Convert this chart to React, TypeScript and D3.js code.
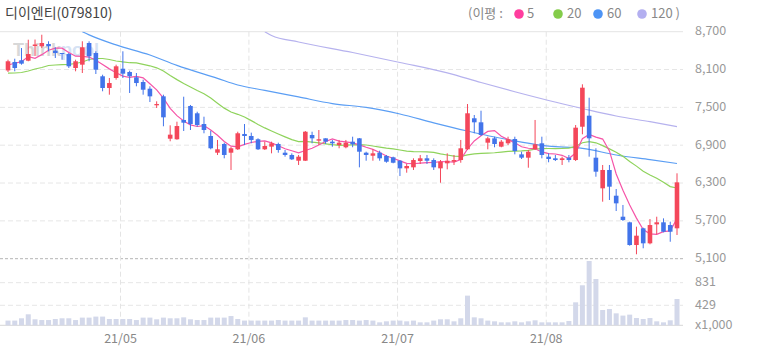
import React from 'react';
import * as d3 from 'd3';

const title = '디이엔티(079810)';

const opens = [8086, 8220, 8247, 8240, 8473, 8469, 8505, 8399, 8362, 8346, 8124, 8177, 8521, 8362, 7993, 7807, 7966, 8113, 8061, 7977,
  7902, 7796, 7533, 7675, 7003, 6994, 7300, 7522, 7406, 7236, 7046, 6781, 6919, 6781, 6835, 7078, 7046, 6994, 6835, 6877,
  6919, 6781, 6745, 6654, 6654, 7062, 6972, 7009, 6956, 6903, 6867, 6956, 7009, 6781, 6733, 6781, 6729, 6708, 6654, 6533,
  6549, 6649, 6692, 6665, 6533, 6613, 6638, 6665, 6835, 7327, 7263, 6940, 7009, 6877, 6930, 6998, 6755, 6702, 6840, 6930,
  6718, 6692, 6665, 6702, 6665, 7193, 7368, 6702, 6216, 6507, 6099, 5766, 5677, 5317, 5582, 5344, 5645, 5677, 5634, 5582];
const highs = [8256, 8272, 8441, 8573, 8576, 8652, 8548, 8453, 8362, 8362, 8256, 8548, 8548, 8389, 8018, 7966, 8177, 8389, 8082, 8045,
  7939, 7834, 7596, 7701, 7215, 7273, 7669, 7538, 7431, 7352, 7130, 6983, 6940, 6871, 7114, 7236, 7099, 7009, 6956, 6956,
  6940, 6824, 6771, 6745, 7125, 7114, 7141, 7009, 6983, 6983, 6983, 7035, 7014, 6797, 6835, 6813, 6745, 6718, 6665, 6602,
  6692, 6745, 6745, 6692, 6665, 6771, 6745, 6983, 7553, 7379, 7447, 7035, 7035, 6983, 7035, 7035, 6797, 6824, 7300, 7035,
  6771, 6745, 6718, 6745, 7220, 7866, 7653, 6851, 6586, 6586, 6205, 5952, 5687, 5608, 5592, 5729, 5766, 5740, 5687, 6454];
const lows = [8061, 8072, 8177, 8231, 8315, 8441, 8389, 8283, 8256, 8124, 8072, 8045, 8231, 8029, 7755, 7701, 7939, 7966, 7728, 7834,
  7701, 7585, 7490, 7200, 6962, 6987, 7125, 7141, 7194, 7089, 6835, 6745, 6692, 6507, 6824, 6903, 6930, 6824, 6824, 6771,
  6781, 6718, 6665, 6586, 6649, 6930, 6903, 6919, 6876, 6851, 6851, 6867, 6549, 6654, 6654, 6654, 6622, 6613, 6411, 6464,
  6507, 6602, 6602, 6507, 6305, 6517, 6586, 6622, 6824, 7089, 7046, 6835, 6867, 6867, 6903, 6755, 6681, 6543, 6824, 6692,
  6629, 6649, 6586, 6629, 6649, 7073, 6718, 6400, 6004, 6031, 5856, 5698, 5306, 5170, 5265, 5328, 5487, 5518, 5369, 5476];
const closes = [8231, 8124, 8193, 8346, 8497, 8521, 8469, 8362, 8346, 8151, 8231, 8453, 8310, 8097, 7807, 7886, 8151, 8034, 7993, 7886,
  7780, 7675, 7553, 7342, 7067, 7204, 7257, 7236, 7220, 7141, 6851, 6835, 6745, 6851, 7089, 7046, 6983, 6835, 6887, 6930,
  6824, 6745, 6676, 6718, 7114, 7009, 6994, 6956, 6930, 6940, 6940, 6914, 6797, 6745, 6771, 6692, 6638, 6622, 6533, 6570,
  6665, 6692, 6654, 6549, 6638, 6654, 6665, 6851, 7406, 7263, 7062, 7009, 6919, 6956, 6994, 6808, 6702, 6797, 6914, 6745,
  6681, 6665, 6692, 6665, 7178, 7812, 7009, 6480, 6507, 6242, 5978, 5714, 5317, 5465, 5344, 5634, 5677, 5528, 5528, 6311];
// volume in thousands of shares
const volumes = [157, 157, 198, 269, 180, 167, 167, 185, 198, 198, 167, 210, 210, 228, 228, 185, 185, 185, 185, 167,
  210, 210, 180, 210, 198, 198, 215, 180, 167, 167, 210, 210, 210, 238, 185, 157, 157, 157, 157, 157,
  167, 157, 157, 157, 215, 157, 157, 157, 157, 157, 167, 167, 157, 167, 157, 126, 144, 157, 157, 144,
  157, 126, 126, 157, 180, 180, 144, 198, 601, 215, 198, 157, 144, 126, 126, 144, 126, 144, 162, 126,
  126, 126, 126, 150, 482, 785, 1217, 897, 345, 363, 286, 246, 263, 203, 185, 203, 144, 126, 162, 541];

const monthIdx = [17, 36, 58, 80];
const monthLabels = ['21/05', '21/06', '21/07', '21/08'];
const priceTicks = [8700, 8100, 7500, 6900, 6300, 5700, 5100];
const volTicks = [831, 429];

const ma5Lead = [8172, 8200, 8225, 8305];
const ma20Lead = [8042, 8045, 8053, 8077, 8108, 8132, 8164, 8172, 8177, 8183, 8196, 8220, 8259, 8275, 8275, 8259, 8235, 8220, 8208];
const ma60Idx = [11, 12, 16, 21, 25, 31, 34, 38, 43, 48, 53, 58, 63, 68, 72, 76, 80, 85, 90, 95, 99];
const ma60Val = [8700, 8650, 8490, 8330, 8165, 7960, 7855, 7770, 7665, 7560, 7500, 7395, 7255, 7125, 7030, 6950, 6885, 6850, 6745, 6670, 6610];
const ma120Idx = [38, 39, 43, 51, 58, 65, 70, 75, 80, 85, 90, 95, 99];
const ma120Val = [8700, 8640, 8537, 8370, 8212, 8048, 7894, 7747, 7609, 7482, 7363, 7273, 7196];

const maLabels = ['5', '20', '60', '120'];
const maColors = ['#f655a8', '#8fd35c', '#5b9ef4', '#b6b2ee'];
const dotColors = ['#ff3d9e', '#84cc4a', '#4d94f5', '#b3aff0'];

const RED = '#f4475a';
const BLUE = '#4274ea';
const FONT = '"Noto Sans CJK KR", "Noto Sans", sans-serif';

export default function App() {
  const W = 758, H = 355;
  const plotL = 0, plotR = 683;
  const x = d3.scaleLinear().domain([0, 99]).range([8, 677]);
  const y = d3.scaleLinear().domain([5100, 8700]).range([258.7, 31.7]);
  const yVol = d3.scaleLinear().domain([429, 831]).range([305.3, 282.7]);
  const volBase = 325.3;
  const step = x(1) - x(0);

  const ma5 = closes.map((c, i) => (i < 4 ? ma5Lead[i] : (d3.mean(closes.slice(i - 4, i + 1)) as number)));
  const ma20 = closes.map((c, i) => (i < 19 ? ma20Lead[i] : (d3.mean(closes.slice(i - 19, i + 1)) as number)));
  const ma60 = ma60Idx.map((idx, k) => [idx, ma60Val[k]] as [number, number]);
  const ma120 = ma120Idx.map((idx, k) => [idx, ma120Val[k]] as [number, number]);

  const lineDense = d3.line<number>().x((_, i) => x(i)).y((v) => y(v));
  const lineSparse = d3.line<[number, number]>().x((d) => x(d[0])).y((d) => y(d[1])).curve(d3.curveMonotoneX);

  const maPaths = [lineDense(ma5), lineDense(ma20), lineSparse(ma60), lineSparse(ma120)];

  const bodyW = 4.6;
  const barW = 5;

  const legendItems = [
    { dot: 519, tx: 527 },
    { dot: 558, tx: 567 },
    { dot: 598, tx: 607 },
    { dot: 642, tx: 651 },
  ];

  return (
    <svg width={W} height={H} style={{ position: 'absolute', left: 0, top: 0, background: '#fff' }} fontFamily={FONT}>
      <defs>
        <clipPath id="plotClip">
          <rect x={plotL} y={31.7} width={plotR - plotL} height={258.7 - 31.7} />
        </clipPath>
      </defs>

      {/* title */}
      <text x={5} y={14} dominantBaseline="middle" fontSize={14} fill="#444">{title}</text>

      {/* legend */}
      <text x={468} y={14} dominantBaseline="middle" fontSize={13} fill="#888">(이평 :</text>
      {maLabels.map((lab, k) => (
        <g key={lab}>
          <circle cx={legendItems[k].dot} cy={14} r={4.8} fill={dotColors[k]} />
          <text x={legendItems[k].tx} y={14} dominantBaseline="middle" fontSize={13} fill="#888">
            {k === 3 ? lab + ' )' : lab}
          </text>
        </g>
      ))}

      {/* watermark */}
      <text x={13} y={56} fontSize={18} fontWeight="bold" fontFamily='"Liberation Sans", Arial, sans-serif' opacity={0.8}>
        <tspan fill="#cfcfcf">Think</tspan>
        <tspan fill="#cddcf2">pool</tspan>
      </text>

      {/* price grid */}
      {priceTicks.map((t, k) => (
        <line key={'pg' + t} x1={plotL} x2={plotR} y1={y(t)} y2={y(t)}
          stroke={k === 0 ? '#e4e4e4' : t === 5100 ? '#b4b4b4' : '#e6e6e6'}
          strokeDasharray={k === 0 ? undefined : t === 5100 ? '3,2' : '5,3'} strokeWidth={1} />
      ))}
      {volTicks.map((t) => (
        <line key={'vg' + t} x1={plotL} x2={plotR} y1={yVol(t)} y2={yVol(t)} stroke="#e6e6e6" strokeDasharray="5,3" />
      ))}
      <line x1={plotL} x2={plotR} y1={volBase} y2={volBase} stroke="#d6d6d6" />
      {monthIdx.map((m) => (
        <line key={'mg' + m} x1={x(m) - step * 0.35} x2={x(m) - step * 0.35} y1={31.7} y2={volBase}
          stroke="#e4e4e4" strokeDasharray="5,3" />
      ))}

      {/* volume bars */}
      {volumes.map((v, i) => (
        <rect key={'v' + i} x={x(i) - barW / 2} y={yVol(v)} width={barW} height={volBase - yVol(v)} fill="#d3d8ea" />
      ))}

      {/* moving averages */}
      <g clipPath="url(#plotClip)">
        {maPaths.slice().reverse().map((p, k) => (
          <path key={'ma' + k} d={p || ''} fill="none" stroke={maColors[3 - k]} strokeWidth={1.2} />
        ))}
      </g>

      {/* candles */}
      {closes.map((c, i) => {
        const o = opens[i];
        const up = c >= o;
        const col = up ? RED : BLUE;
        const top = y(Math.max(o, c));
        const bot = y(Math.min(o, c));
        return (
          <g key={'c' + i}>
            <line x1={x(i)} x2={x(i)} y1={y(highs[i])} y2={y(lows[i])} stroke={col} strokeWidth={1} />
            <rect x={x(i) - bodyW / 2} y={top} width={bodyW} height={Math.max(1, bot - top)} fill={col} />
          </g>
        );
      })}

      {/* right axis labels */}
      {priceTicks.map((t) => (
        <text key={'pl' + t} x={695} y={y(t)} dominantBaseline="middle" fontSize={12.5} fill="#999">
          {d3.format(',')(t)}
        </text>
      ))}
      {volTicks.map((t) => (
        <text key={'vl' + t} x={695} y={yVol(t)} dominantBaseline="middle" fontSize={12.5} fill="#999">
          {t}
        </text>
      ))}
      <text x={695} y={volBase} dominantBaseline="middle" fontSize={12.5} fill="#999">x1,000</text>

      {/* month labels */}
      {monthIdx.map((m, k) => (
        <text key={'ml' + m} x={x(m) - step * 0.35} y={340} textAnchor="middle" dominantBaseline="middle" fontSize={12.5} fill="#888">
          {monthLabels[k]}
        </text>
      ))}
    </svg>
  );
}
